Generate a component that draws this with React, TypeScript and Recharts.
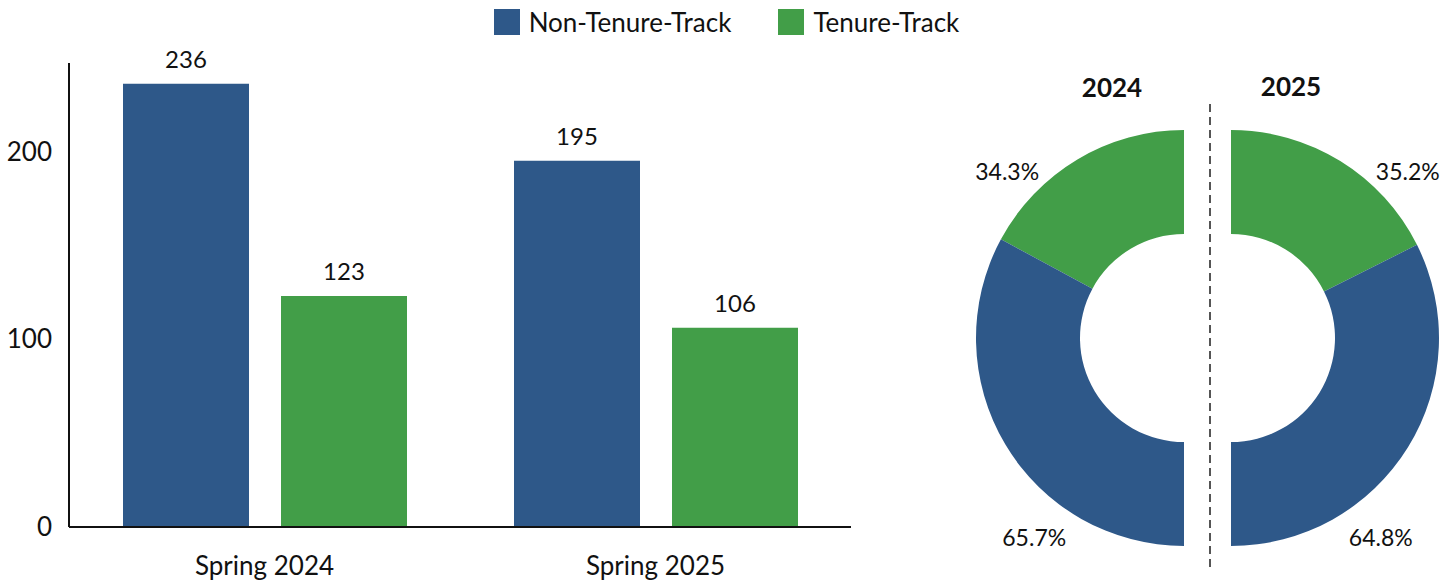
import React from "react";
import {
    BarChart,
    Bar,
    XAxis,
    YAxis,
    Legend,
    LabelList,
    PieChart,
    Pie,
    Cell,
} from "recharts";

const categories = ["Spring 2024", "Spring 2025"];
const nonTenureTrack = [236, 195];
const tenureTrack = [123, 106];
const yTicks = [0, 100, 200];
const pieYears = ["2024", "2025"];

const BLUE = "#2E5889";
const GREEN = "#429E48";
const INK = "#111111";
const FONT = "Lato, 'Open Sans', sans-serif";

const barData = categories.map((name, i) => ({
    name,
    nonTenure: nonTenureTrack[i],
    tenure: tenureTrack[i],
}));

// one half-donut per year: green (tenure) first, then blue
const pieData = pieYears.map((_, i) => [
    { name: "Tenure-Track", value: tenureTrack[i] },
    { name: "Non-Tenure-Track", value: nonTenureTrack[i] },
]);

const RAD = Math.PI / 180;

function renderPieLabel(props: any) {
    const { cx, cy, outerRadius, midAngle, percent, index } = props;
    const dir = Math.cos(midAngle * RAD) < 0 ? -1 : 1;
    const x = cx + dir * (index === 0 ? 0.85 : 0.72) * outerRadius;
    const y = cy + (index === 0 ? -0.76 : 1.0) * outerRadius;
    return (
        <text
            x={x}
            y={y}
            textAnchor="middle"
            fill={INK}
            fontSize={23}
            fontFamily={FONT}
        >
            {(percent * 100).toFixed(1)}%
        </text>
    );
}

function LegendContent(props: any) {
    const { payload } = props;
    return (
        <div
            style={{
                display: "flex",
                justifyContent: "center",
                alignItems: "center",
                height: 40,
                fontFamily: FONT,
                fontSize: 26,
                color: INK,
            }}
        >
            {(payload || []).map((p: any, i: number) => (
                <div
                    key={p.value}
                    style={{
                        display: "flex",
                        alignItems: "center",
                        marginLeft: i === 0 ? 0 : 47,
                    }}
                >
                    <span
                        style={{
                            width: 26,
                            height: 26,
                            background: p.color,
                            marginRight: 9,
                            display: "inline-block",
                        }}
                    />
                    <span>{p.value}</span>
                </div>
            ))}
        </div>
    );
}

export default function App() {
    return (
        <div
            style={{
                position: "absolute",
                left: 0,
                top: 0,
                width: 1453,
                height: 582,
                background: "#fff",
                fontFamily: FONT,
            }}
        >
            {/* BAR CHART */}
            <div style={{ position: "absolute", left: 0, top: 0 }}>
                <BarChart
                    width={1453}
                    height={582}
                    data={barData}
                    margin={{ top: 23, right: 602, left: 0, bottom: 25 }}
                    barSize={126}
                    barGap={32}
                >
                    <Legend
                        verticalAlign="top"
                        align="center"
                        content={<LegendContent />}
                        wrapperStyle={{ top: 2, left: 0, width: 1453 }}
                    />
                    <XAxis
                        dataKey="name"
                        tickLine={false}
                        tickSize={0}
                        tickMargin={30}
                        axisLine={{ stroke: INK, strokeWidth: 2 }}
                        tick={{ fill: INK, fontSize: 26, fontFamily: FONT }}
                    />
                    <YAxis
                        width={69}
                        domain={[0, 247]}
                        ticks={yTicks}
                        tickLine={false}
                        tickSize={0}
                        tickMargin={17}
                        axisLine={{ stroke: INK, strokeWidth: 2 }}
                        tick={{ fill: INK, fontSize: 26, fontFamily: FONT }}
                    />
                    <Bar
                        dataKey="nonTenure"
                        name="Non-Tenure-Track"
                        fill={BLUE}
                        isAnimationActive={false}
                    >
                        <LabelList
                            dataKey="nonTenure"
                            position="top"
                            offset={16}
                            fill={INK}
                            fontSize={24}
                            fontFamily={FONT}
                        />
                    </Bar>
                    <Bar
                        dataKey="tenure"
                        name="Tenure-Track"
                        fill={GREEN}
                        isAnimationActive={false}
                    >
                        <LabelList
                            dataKey="tenure"
                            position="top"
                            offset={16}
                            fill={INK}
                            fontSize={24}
                            fontFamily={FONT}
                        />
                    </Bar>
                </BarChart>
            </div>

            {/* HALF DONUTS */}
            <div style={{ position: "absolute", left: 940, top: 0 }}>
                <PieChart
                    width={513}
                    height={582}
                    margin={{ top: 0, right: 0, bottom: 0, left: 0 }}
                >
                    <Pie
                        data={pieData[0]}
                        dataKey="value"
                        cx={244}
                        cy={338}
                        startAngle={90}
                        endAngle={270}
                        innerRadius={104}
                        outerRadius={208}
                        stroke="none"
                        label={renderPieLabel}
                        labelLine={false}
                        isAnimationActive={false}
                    >
                        <Cell fill={GREEN} />
                        <Cell fill={BLUE} />
                    </Pie>
                    <Pie
                        data={pieData[1]}
                        dataKey="value"
                        cx={291}
                        cy={338}
                        startAngle={90}
                        endAngle={-90}
                        innerRadius={104}
                        outerRadius={208}
                        stroke="none"
                        label={renderPieLabel}
                        labelLine={false}
                        isAnimationActive={false}
                    >
                        <Cell fill={GREEN} />
                        <Cell fill={BLUE} />
                    </Pie>
                    <line
                        x1={270}
                        x2={270}
                        y1={104}
                        y2={572}
                        stroke="#555"
                        strokeWidth={2}
                        strokeDasharray="8 5"
                    />
                    <text
                        x={172}
                        y={97}
                        textAnchor="middle"
                        fontSize={26}
                        fontWeight="bold"
                        fontFamily={FONT}
                        fill={INK}
                    >
                        {pieYears[0]}
                    </text>
                    <text
                        x={351}
                        y={96}
                        textAnchor="middle"
                        fontSize={26}
                        fontWeight="bold"
                        fontFamily={FONT}
                        fill={INK}
                    >
                        {pieYears[1]}
                    </text>
                </PieChart>
            </div>
        </div>
    );
}
